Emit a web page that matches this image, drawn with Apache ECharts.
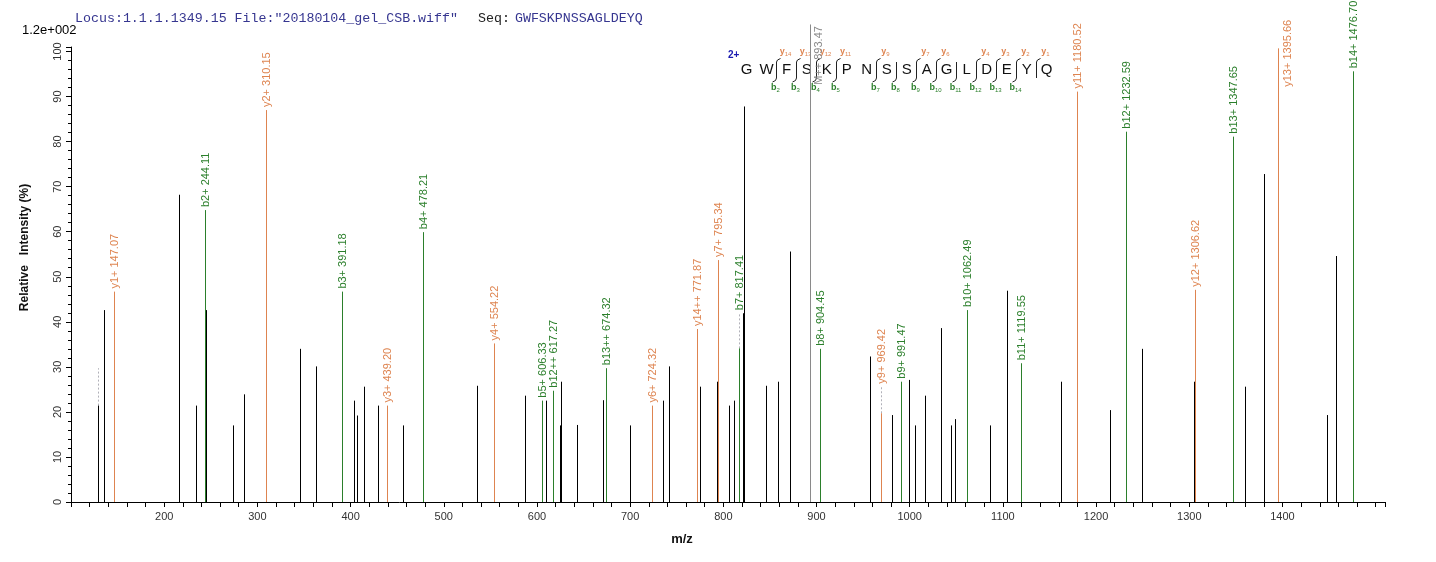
<!DOCTYPE html>
<html>
<head>
<meta charset="utf-8">
<script src="https://cdn.jsdelivr.net/npm/echarts@6/dist/echarts.min.js"></script>
<style>
  html, body { margin: 0; padding: 0; background: #fff; }
  #container { width: 1436px; height: 562px; }
</style>
</head>
<body>
<div id="container"></div>
<script>
// unmatched peaks (black)
var otherMz = [129.1, 135.6, 216.2, 234.4, 245.0, 274.6, 286.0, 346.2, 363.4, 404.2, 407.4, 415.0, 430.0, 456.9,
  536.4, 588.0, 610.5, 625.6, 626.7, 643.9, 671.8, 700.1, 736.3, 741.7, 742.7, 775.0, 793.2, 806.1, 811.5,
  821.3, 822.5, 846.4, 858.9, 872.2, 957.6, 981.3, 1000.0, 1006.0, 1016.8, 1033.9, 1044.7, 1049.0, 1086.6,
  1104.9, 1162.9, 1215.5, 1249.9, 1305.9, 1360.6, 1380.4, 1448.7, 1458.4];
var otherInt = [21.4, 42.6, 68.2, 21.4, 42.6, 17.0, 23.9, 34.0, 30.1, 22.5, 19.2, 25.6, 21.4, 17.0,
  25.8, 23.6, 22.5, 17.0, 26.7, 17.1, 22.6, 17.0, 22.5, 19.3, 30.1, 25.6, 26.7, 21.4, 22.5,
  41.9, 87.8, 25.8, 26.7, 55.6, 32.3, 19.3, 27.1, 17.0, 23.6, 38.6, 17.0, 18.4, 17.0,
  46.9, 26.7, 20.4, 34.0, 26.7, 25.6, 72.8, 19.3, 54.6];

// y ions (orange)
var yMz = [147.07, 310.15, 439.20, 554.22, 724.32, 771.87, 795.34, 969.42, 1180.52, 1306.62, 1395.66];
var yInt = [46.7, 87.0, 21.4, 35.2, 21.4, 38.4, 53.7, 19.7, 91.1, 47.1, 100.7];
var yNames = ['y1+', 'y2+', 'y3+', 'y4+', 'y6+', 'y14++', 'y7+', 'y9+', 'y11+', 'y12+', 'y13+'];

// b ions (green)
var bMz = [244.11, 391.18, 478.21, 606.33, 617.27, 674.32, 817.41, 904.45, 991.47, 1062.49, 1119.55, 1232.59, 1347.65, 1476.70];
var bInt = [64.8, 46.7, 59.9, 22.5, 24.7, 29.7, 34.1, 34.0, 26.7, 42.6, 30.8, 82.2, 81.1, 95.6];
var bNames = ['b2+', 'b3+', 'b4+', 'b5+', 'b12++', 'b13++', 'b7+', 'b8+', 'b9+', 'b10+', 'b11+', 'b12+', 'b13+', 'b14+'];

// precursor (grey)
var precMz = [893.47];
var precInt = [106];
var precNames = ['M++'];

// dashed label leaders
var dashMz = [129.1, 817.41, 969.42];
var dashLow = [21.4, 34.1, 19.7];
var dashHigh = [29.7, 41.9, 25.6];

// sequence annotation
var residues = ['G', 'W', 'F', 'S', 'K', 'P', 'N', 'S', 'S', 'A', 'G', 'L', 'D', 'E', 'Y', 'Q'];
var bBreaks = [2, 3, 4, 5, 7, 8, 9, 10, 11, 12, 13, 14];
var yBreaks = [14, 13, 12, 11, 9, 7, 6, 4, 3, 2, 1];

var xTicks = { min: 100, max: 1510, interval: 100 };
var yTicks = { min: 0, max: 101, interval: 10 };

var Y_COLOR = '#de8450';
var B_COLOR = '#2b7f2b';
var FONT = '"Liberation Sans", Arial, sans-serif';

function crisp(v) { return Math.round(v - 0.5) + 0.5; }

function labelHeight(mz, inten) {
  for (var i = 0; i < dashMz.length; i++) {
    if (Math.abs(dashMz[i] - mz) < 0.01) return Math.max(inten, dashHigh[i]);
  }
  return inten;
}

function stickSeries(name, mz, inten, names, color, z, beside) {
  return {
    type: 'custom',
    name: name,
    z: z,
    clip: false,
    data: mz.map(function (m, i) { return [m, inten[i]]; }),
    renderItem: function (params, api) {
      var x = api.value(0), h = api.value(1);
      var p0 = api.coord([x, 0]);
      var p1 = api.coord([x, h]);
      var px = crisp(p0[0]);
      var children = [{
        type: 'line',
        shape: { x1: px, y1: p0[1], x2: px, y2: p1[1] },
        style: { stroke: color, lineWidth: 1 }
      }];
      if (names) {
        var txt = names[params.dataIndex] + ' ' + x.toFixed(2);
        var len = txt.length * 5.4;
        var tx = px, ty = api.coord([x, labelHeight(x, h)])[1] - 3;
        if (beside) {
          tx = px + 8;
          ty = api.coord([x, 92.6])[1];
        } else if (ty - len < -6) {
          // no room above the peak: put the label next to it
          tx = px + 9;
          ty = 22 + len;
        }
        children.push({
          type: 'text',
          x: tx,
          y: ty,
          rotation: Math.PI / 2,
          style: {
            text: txt,
            fill: color,
            fontSize: 11,
            fontFamily: FONT,
            align: 'left',
            verticalAlign: 'middle'
          }
        });
      }
      return { type: 'group', children: children };
    }
  };
}

function dashSeries() {
  return {
    type: 'custom',
    name: 'leader',
    z: 1,
    data: dashMz.map(function (m, i) { return [m, dashLow[i], dashHigh[i]]; }),
    renderItem: function (params, api) {
      var p0 = api.coord([api.value(0), api.value(1)]);
      var p1 = api.coord([api.value(0), api.value(2)]);
      var px = crisp(p0[0]);
      return {
        type: 'line',
        shape: { x1: px, y1: p0[1], x2: px, y2: p1[1] },
        style: { stroke: '#b0b0b8', lineWidth: 1, lineDash: [2, 2] }
      };
    }
  };
}

// sequence graphic
var seqX0 = 746.7, seqPitch = 20, seqY = 70;
var graphics = [
  { type: 'text', left: 22, top: 24, style: { text: '1.2e+002', fill: '#000', fontSize: 13, fontFamily: FONT } },
  { type: 'text', x: 728, y: 55, style: { text: '2+', fill: '#1a1ab0', fontSize: 10, fontWeight: 'bold', fontFamily: FONT, verticalAlign: 'middle' } }
];
residues.forEach(function (r, i) {
  graphics.push({
    type: 'text', x: seqX0 + seqPitch * i, y: seqY,
    style: { text: r, fill: '#111', fontSize: 15, fontFamily: FONT, align: 'center', verticalAlign: 'middle' }
  });
});
var allBreaks = {};
bBreaks.concat(yBreaks.map(function (n) { return residues.length - n; })).forEach(function (k) { allBreaks[k] = true; });
Object.keys(allBreaks).forEach(function (k) {
  k = +k;
  var bx = crisp(seqX0 + seqPitch * (k - 1) + 10);
  var pts = [];
  var hasY = yBreaks.indexOf(residues.length - k) >= 0;
  var hasB = bBreaks.indexOf(k) >= 0;
  if (hasY) pts.push([bx + 4, 58.5], [bx + 1, 60]);
  pts.push([bx, 62], [bx, 78]);
  if (hasB) pts.push([bx - 1, 80.5], [bx - 4, 82]);
  graphics.push({ type: 'polyline', shape: { points: pts }, style: { stroke: '#222', lineWidth: 1, fill: null } });
  if (hasY) {
    graphics.push({
      type: 'text', x: bx + 9, y: 52,
      style: {
        text: '{n|y}{s|' + (residues.length - k) + '}', align: 'center', verticalAlign: 'middle',
        rich: { n: { fontSize: 9, fill: Y_COLOR, fontFamily: FONT, fontWeight: 'bold' }, s: { fontSize: 6, fill: Y_COLOR, fontFamily: FONT, padding: [4, 0, 0, 0] } }
      }
    });
  }
  if (hasB) {
    graphics.push({
      type: 'text', x: bx - 1, y: 88,
      style: {
        text: '{n|b}{s|' + k + '}', align: 'center', verticalAlign: 'middle',
        rich: { n: { fontSize: 9, fill: B_COLOR, fontFamily: FONT, fontWeight: 'bold' }, s: { fontSize: 6, fill: B_COLOR, fontFamily: FONT, padding: [4, 0, 0, 0] } }
      }
    });
  }
});

var dom = document.getElementById('container');
var myChart = echarts.init(dom, null, { renderer: 'canvas' });

var option = {
  backgroundColor: '#fff',
  animation: false,
  title: {
    left: 70,
    top: 4,
    text: '{a|Locus:1.1.1.1349.15 File:"20180104_gel_CSB.wiff"}    {b|Seq:} {a|GWFSKPNSSAGLDEYQ}',
    textStyle: {
      fontWeight: 'normal',
      rich: {
        a: { fontFamily: '"Liberation Mono", monospace', fontSize: 13.3, fontWeight: 'normal', color: '#363690' },
        b: { fontFamily: '"Liberation Mono", monospace', fontSize: 13.3, fontWeight: 'normal', color: '#222' }
      }
    }
  },
  grid: { left: 71, right: 51, top: 47, bottom: 60 },
  xAxis: {
    type: 'value',
    min: xTicks.min,
    max: xTicks.max,
    interval: xTicks.interval,
    name: 'm/z',
    nameLocation: 'middle',
    nameGap: 31,
    nameTextStyle: { fontFamily: FONT, fontSize: 13, fontWeight: 'bold', color: '#111', padding: [0, 92, 0, 0] },
    axisLine: { lineStyle: { color: '#000', width: 1 } },
    axisTick: { length: 5, lineStyle: { color: '#000' } },
    minorTick: { show: true, splitNumber: 5, length: 5, lineStyle: { color: '#000' } },
    splitLine: { show: false },
    axisLabel: {
      fontFamily: FONT, fontSize: 11, color: '#333', margin: 9,
      formatter: function (v) { return (v <= 100 || v >= 1500) ? '' : v; }
    }
  },
  yAxis: {
    type: 'value',
    min: yTicks.min,
    max: yTicks.max,
    interval: yTicks.interval,
    name: 'Relative   Intensity (%)',
    nameLocation: 'middle',
    nameGap: 40,
    nameTextStyle: { fontFamily: FONT, fontSize: 12, fontWeight: 'bold', color: '#111', padding: [0, 0, 0, 54] },
    axisLine: { show: true, lineStyle: { color: '#000', width: 1 } },
    axisTick: { show: true, length: 5, lineStyle: { color: '#000' } },
    minorTick: { show: true, splitNumber: 5, length: 3, lineStyle: { color: '#000' } },
    splitLine: { show: false },
    axisLabel: {
      rotate: 90, fontFamily: FONT, fontSize: 11, color: '#333', margin: 8,
      formatter: function (v) { return v > 100 ? '' : v; }
    }
  },
  graphic: graphics,
  series: [
    dashSeries(),
    stickSeries('precursor', precMz, precInt, precNames, '#8a8a8a', 2, true),
    stickSeries('y ions', yMz, yInt, yNames, Y_COLOR, 3, false),
    stickSeries('b ions', bMz, bInt, bNames, B_COLOR, 3, false),
    stickSeries('peaks', otherMz, otherInt, null, '#000', 4, false)
  ]
};

if (option && typeof option === 'object') {
  myChart.setOption(option);
}

window.addEventListener('resize', myChart.resize);
</script>
</body>
</html>
